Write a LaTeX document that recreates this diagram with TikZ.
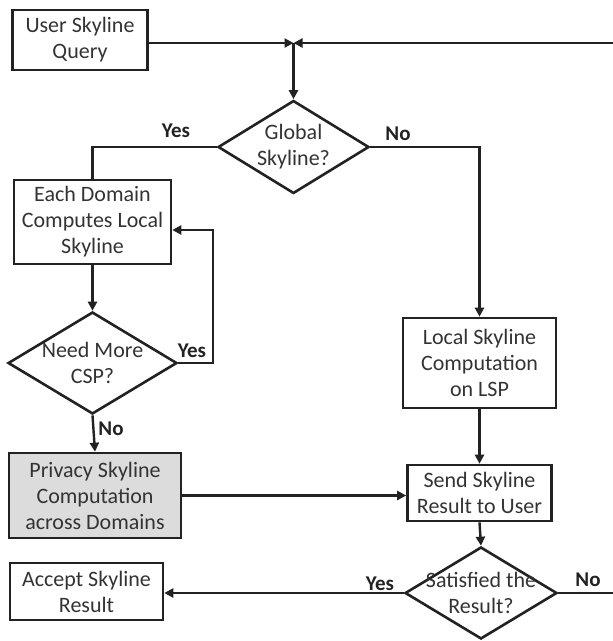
\documentclass[tikz,border=0pt]{standalone}
\usepackage{fontspec}
\setmainfont{Carlito}
\usetikzlibrary{shapes.geometric,arrows.meta}
\definecolor{ink}{HTML}{222222}
\definecolor{txt}{HTML}{333333}
\definecolor{shade}{HTML}{DCDCDC}
\tikzset{
  x=1pt,y=-1pt,
  every node/.style={font=\fontsize{22}{26}\selectfont, text=txt},
  box/.style={draw=ink, line width=2.6pt, rectangle, align=center, inner sep=0pt},
  dec/.style={draw=ink, line width=2.6pt, diamond, inner sep=0pt},
  lab/.style={font=\bfseries\fontsize{21}{25}\selectfont, text=ink},
  conn/.style={draw=ink, line width=2.4pt},
  arr/.style={conn, -{Triangle[length=9pt,width=9pt]}},
}
\begin{document}
\begin{tikzpicture}
\useasboundingbox (0,0) rectangle (613,641);
% boxes
\node[box, minimum width=135pt, minimum height=60pt] (usq) at (80,40) {User Skyline\\Query};
\node[box, minimum width=157pt, minimum height=84pt] (edc) at (92.5,222) {Each Domain\\Computes Local\\Skyline};
\node[box, minimum width=172pt, minimum height=85pt, fill=shade] (psc) at (95,495.5) {Privacy Skyline\\Computation\\across Domains};
\node[box, minimum width=153pt, minimum height=90pt] (lsc) at (479.5,363) {Local Skyline\\Computation\\on LSP};
\node[box, minimum width=144pt, minimum height=56pt] (send) at (479.5,493) {Send Skyline\\Result to User};
\node[box, minimum width=153pt, minimum height=57pt] (asr) at (86.5,591.5) {Accept Skyline\\Result};
% decisions
\node[dec, minimum width=151pt, minimum height=93pt] (gs) at (293.5,147) {};
\node[align=center] at (gs.center) {Global\\Skyline?};
\node[dec, minimum width=169pt, minimum height=102pt] (nmc) at (92.5,363) {};
\node[align=center] at (nmc.center) {Need More\\CSP?};
\node[dec, minimum width=152pt, minimum height=92pt] (sat) at (481,593) {};
\node[align=center] at (sat.center) {Satisfied the\\Result?};
% helper coordinates
\coordinate (junc) at (293.5,43);
\coordinate (topright) at (613,43);
\coordinate (loop) at (213,230);
\coordinate (botright) at (613,593);
% connectors
\draw[arr] (usq.east |- junc) -- (junc);
\draw[arr] (topright) -- (junc);
\draw[arr] (junc) -- (gs.north);
\draw[conn] (gs.west) -| (edc.north);
\draw[arr] (gs.east) -| (lsc.north);
\draw[arr] (edc.south) -- (nmc.north);
\draw[arr] (nmc.east) -| (loop) -- (loop -| edc.east);
\draw[arr] (nmc.south) -- (psc.north);
\draw[arr] (psc.east) -- (psc.east -| send.west);
\draw[arr] (lsc.south) -- (send.north);
\draw[arr] (send.south) -- (sat.north);
\draw[arr] (sat.west) -- (sat.west -| asr.east);
\draw[conn] (sat.east) -- (botright);
% labels
\node[lab] (l1) at (176,131) {Yes};
\node[lab] (l2) at (398,134) {No};
\node[lab] (l3) at (192,351) {Yes};
\node[lab] (l4) at (111,429) {No};
\node[lab] (l5) at (380,584) {Yes};
\node[lab] (l6) at (588,580) {No};
\end{tikzpicture}
\end{document}
